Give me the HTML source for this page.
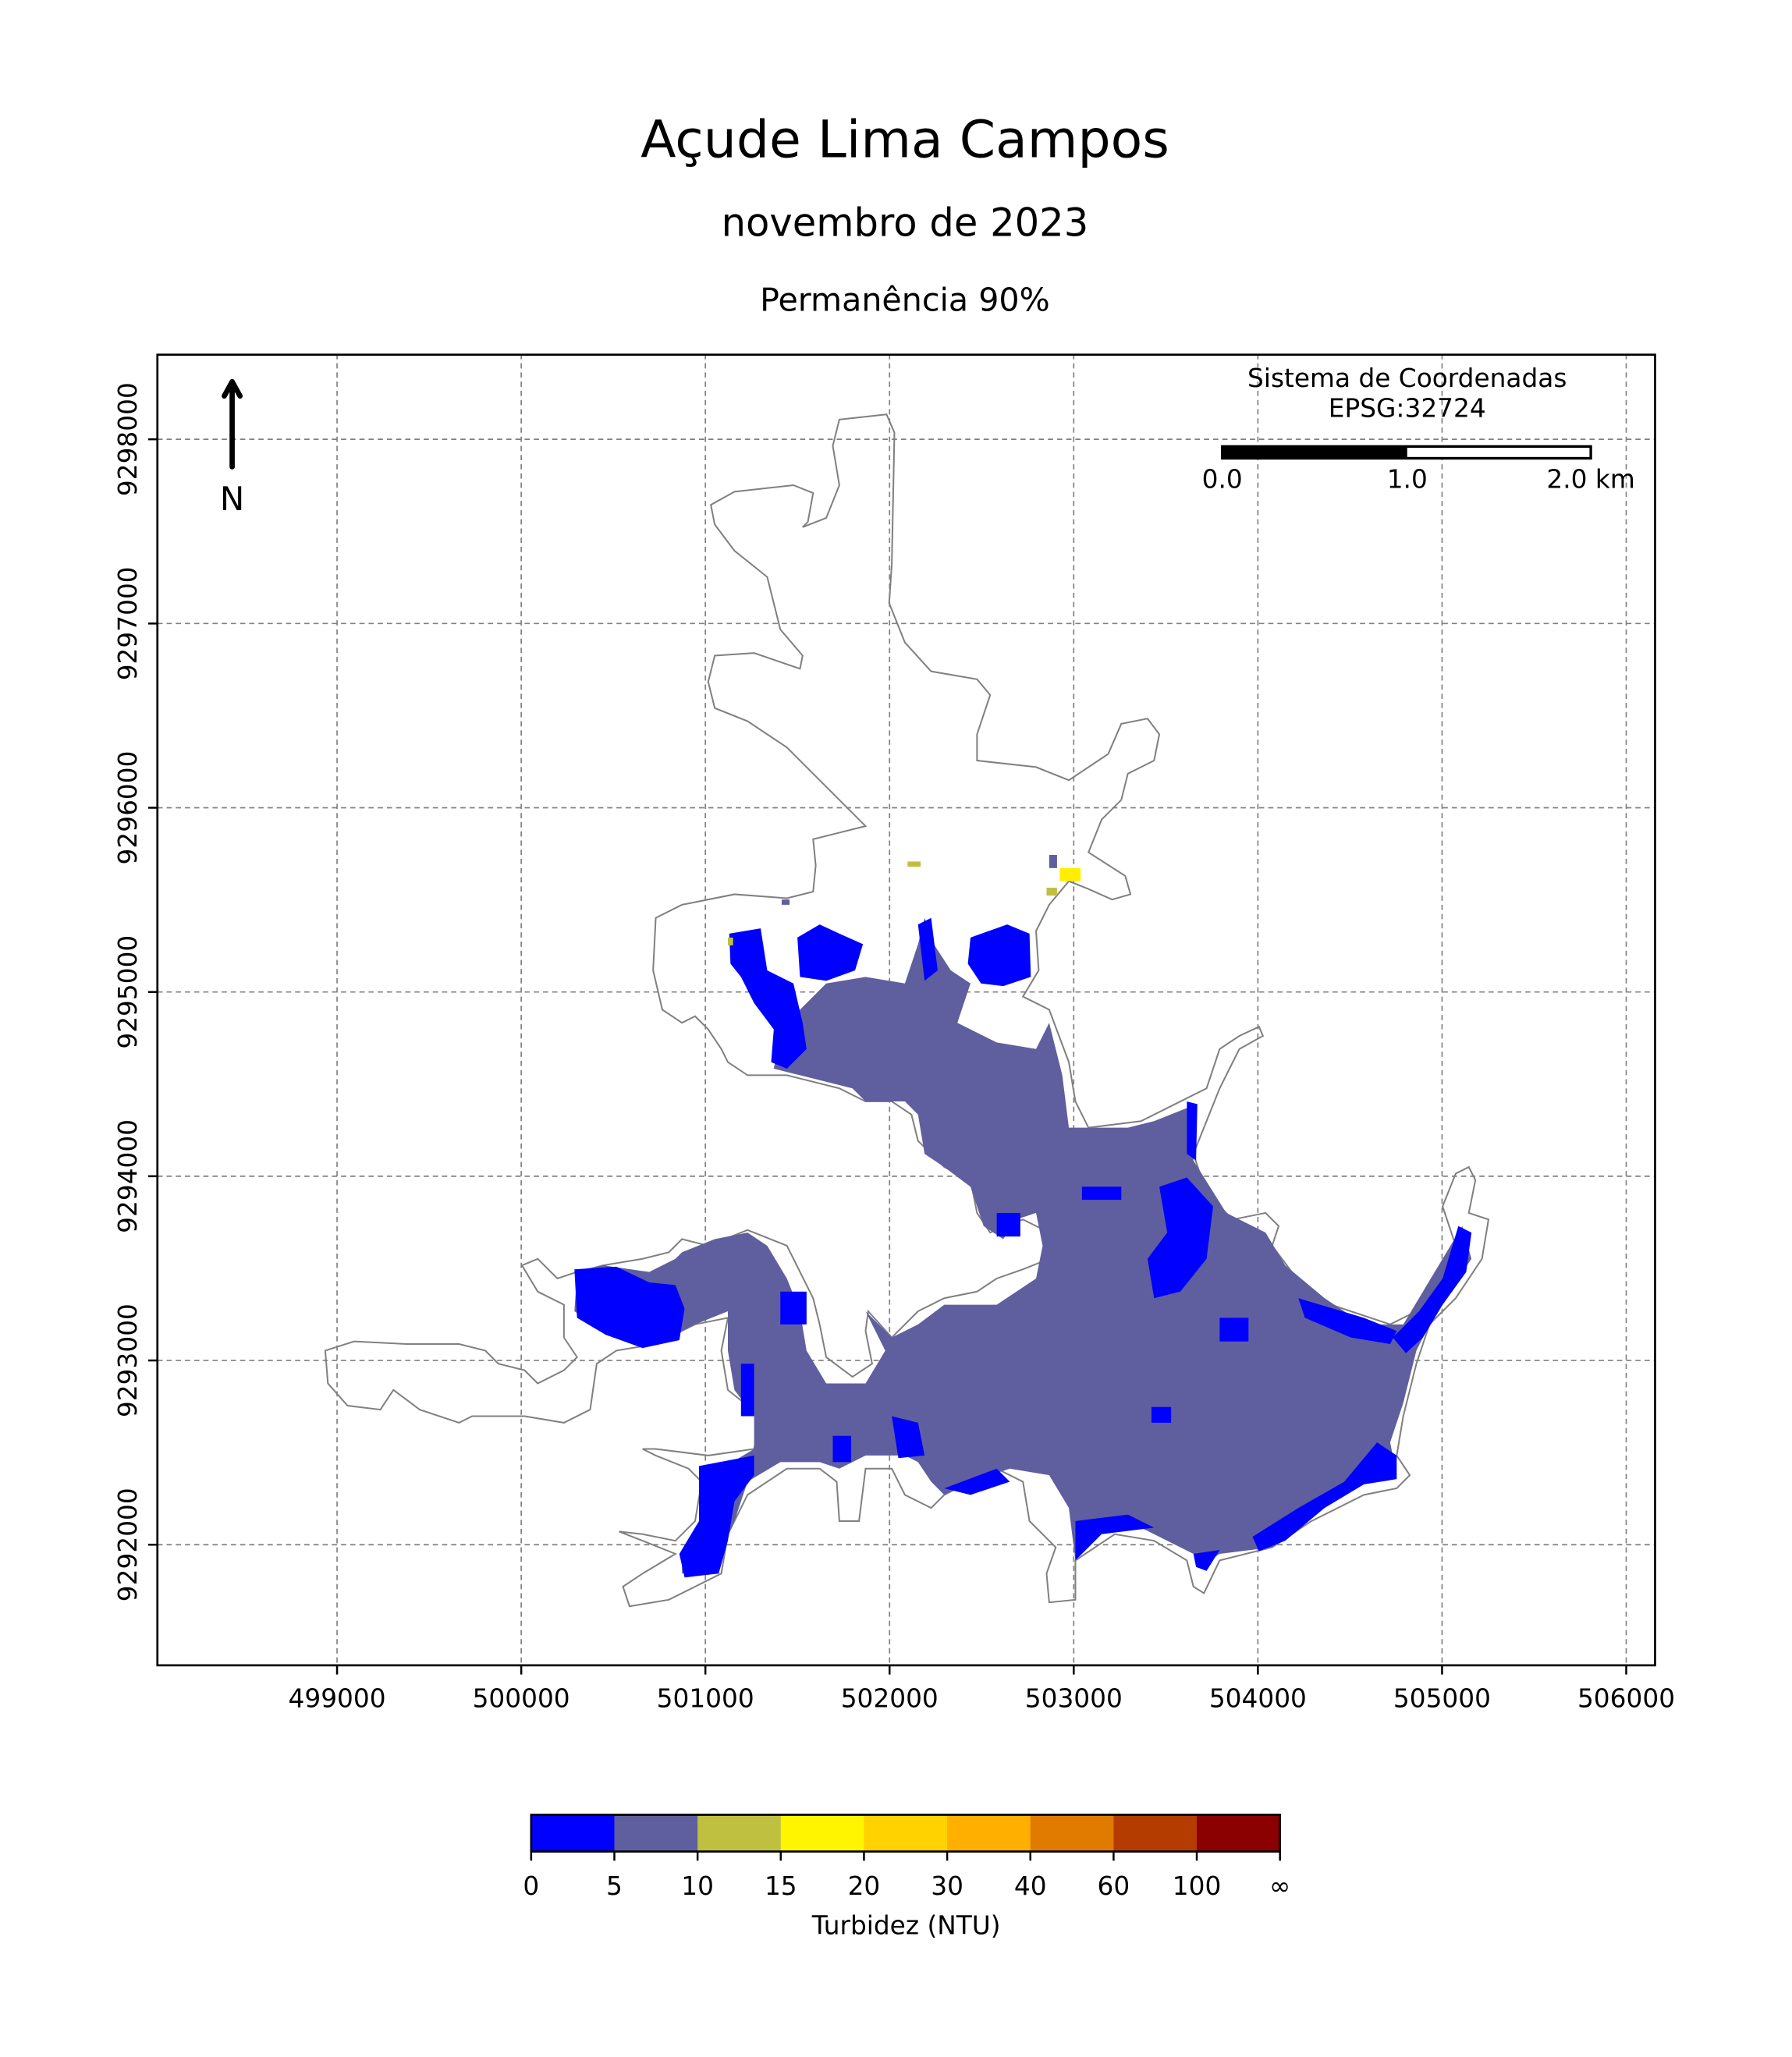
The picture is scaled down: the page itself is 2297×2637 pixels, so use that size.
<!DOCTYPE html>
<html><head><meta charset="utf-8"><style>
html,body{margin:0;padding:0;background:#fff}
svg{display:block}
text{font-family:"DejaVu Sans","Liberation Sans",sans-serif;fill:#000}
</style></head><body>
<svg width="2297" height="2637" viewBox="0 0 1366.4 1568.7" xmlns="http://www.w3.org/2000/svg">
<text x="690" y="120" font-size="39.5" text-anchor="middle">Açude Lima Campos</text>
<text x="690" y="180" font-size="29.5" text-anchor="middle">novembro de 2023</text>
<text x="690" y="237" font-size="24.5" text-anchor="middle">Permanência 90%</text>
<g id="grid"></g>
<g id="lake">
<path fill="none" stroke="#808080" stroke-width="1.2" d="M640,320 L676,316 682,330 680,430 678,460 690,490 710,512 745,518 755,530 745,560 745,580 790,585 815,595 845,575 855,552 875,548 884,560 880,580 860,590 855,610 840,625 830,650 858,668 862,682 848,686 830,678 815,672 800,690 790,710 792,740 780,760 800,770 815,810 820,840 830,860 870,855 900,840 920,830 930,800 945,790 960,783 963,790 945,800 940,810 930,830 918,860 910,880 920,910 940,930 965,925 975,935 970,950 985,970 1000,990 1030,1000 1060,1010 1080,1000 1100,970 1110,950 1100,920 1110,895 1120,890 1125,900 1120,925 1135,930 1130,960 1110,990 1090,1010 1080,1040 1070,1080 1065,1110 1075,1125 1065,1135 1040,1140 1000,1160 970,1180 930,1190 918,1215 910,1210 905,1190 880,1175 850,1170 820,1190 820,1220 800,1222 798,1200 805,1180 785,1160 780,1130 760,1120 740,1130 720,1140 710,1150 690,1140 680,1120 660,1120 655,1160 640,1160 638,1130 625,1120 600,1120 570,1140 555,1170 550,1200 530,1210 510,1220 480,1225 475,1210 490,1200 515,1185 490,1175 472,1168 490,1170 515,1175 530,1160 535,1130 525,1120 500,1110 490,1105 500,1105 540,1110 575,1105 580,1080 555,1060 550,1030 555,1005 530,1010 500,1025 470,1030 455,1040 450,1075 430,1085 400,1080 360,1080 350,1085 320,1075 300,1060 290,1075 265,1072 250,1055 248,1030 270,1023 310,1025 350,1025 370,1030 380,1040 400,1045 410,1055 430,1045 440,1035 430,1020 430,995 410,985 398,965 410,960 425,975 440,970 460,965 490,960 510,955 520,945 540,950 570,938 600,950 610,970 620,990 625,1010 630,1035 650,1050 665,1040 660,1015 662,1000 680,1020 700,1000 720,990 745,985 760,975 780,968 800,960 800,940 780,930 755,940 745,925 740,900 720,890 700,870 695,850 680,840 660,840 640,830 600,820 570,820 555,810 550,800 540,785 530,775 520,780 505,770 498,740 500,700 520,690 560,682 600,685 620,680 622,660 620,640 640,635 660,630 640,610 620,590 600,570 570,550 545,540 540,520 545,500 575,498 610,510 612,500 595,480 590,460 585,440 560,420 545,400 542,385 560,375 605,370 620,376 616,398 612,402 630,395 640,370 635,340 Z"/>
<path fill="#5f5f9f" d="M595,790 L610,770 630,750 660,745 690,750 700,720 705,700 712,720 725,740 740,750 730,780 760,795 790,800 800,780 810,820 815,860 860,860 880,855 905,845 912,845 910,885 935,925 965,940 980,965 1010,990 1040,1010 1070,1010 1100,960 1115,935 1122,960 1095,1000 1080,1030 1070,1070 1060,1100 1065,1125 1040,1130 1010,1150 970,1180 930,1185 915,1195 910,1185 870,1165 840,1165 820,1190 815,1150 800,1125 770,1120 740,1130 720,1140 710,1130 700,1115 690,1110 660,1110 640,1120 625,1115 595,1115 570,1130 560,1160 545,1195 520,1200 520,1185 535,1160 535,1130 550,1120 575,1105 575,1080 560,1060 555,1030 555,1000 530,1010 500,1025 460,1015 438,1000 440,970 460,965 495,970 515,960 520,955 545,945 570,940 585,950 600,975 610,1000 615,1030 630,1055 660,1055 675,1030 660,1000 680,1020 700,1010 720,995 760,995 790,975 795,950 790,925 775,930 765,945 750,935 740,905 720,890 705,880 700,850 690,840 660,840 650,830 610,820 590,815 Z"/>
<g fill="#0000ff">
<path d="M556,712 L580,708 585,740 605,750 612,780 615,800 600,815 588,810 590,785 575,765 565,745 557,735 Z"/>
<path d="M608,715 L625,705 640,712 658,720 652,740 630,748 610,745 Z"/>
<path d="M740,715 L768,705 785,712 786,745 765,752 748,750 738,735 Z"/>
<path d="M700,705 L710,700 715,740 705,748 Z"/>
<path d="M438,968 L470,966 495,978 515,980 522,998 518,1022 490,1028 462,1018 440,1005 Z"/>
<path d="M533,1118 L575,1110 575,1125 560,1145 555,1175 548,1200 522,1203 518,1185 533,1160 Z"/>
<path d="M1112,935 L1122,940 1118,970 1100,995 1085,1020 1072,1032 1062,1020 1082,1000 1100,975 Z"/>
<path d="M884,905 L905,898 925,920 920,960 900,985 880,990 875,960 890,940 Z"/>
<path d="M990,990 L1040,1005 1065,1015 1060,1025 1030,1020 995,1005 Z"/>
<path d="M1050,1100 L1065,1110 1065,1128 1040,1132 1010,1150 980,1175 960,1183 955,1172 990,1150 1025,1130 Z"/>
<path d="M905,840 L913,842 912,885 905,880 Z"/>
<path d="M720,1135 L760,1120 770,1130 740,1140 Z"/>
<path d="M820,1160 L860,1155 880,1165 840,1170 820,1190 Z"/>
<path d="M910,1185 L930,1182 920,1198 912,1195 Z"/>
<path d="M680,1080 L700,1085 705,1110 685,1112 Z"/>
<rect x="760" y="925" width="18" height="18"/>
<rect x="878" y="1073" width="15" height="12"/>
<rect x="930" y="1005" width="22" height="18"/>
<rect x="565" y="1040" width="10" height="40"/>
<rect x="825" y="905" width="30" height="10"/>
<rect x="595" y="985" width="20" height="25"/>
<rect x="635" y="1095" width="14" height="20"/>
</g>
<g>
<rect x="692" y="657" width="10" height="4" fill="#c0c040"/>
<rect x="808" y="662" width="16" height="10" fill="#ffee00"/>
<rect x="800" y="652" width="6" height="10" fill="#5f5f9f"/>
<rect x="798" y="677" width="8" height="6" fill="#c0c040"/>
<rect x="555" y="715" width="4" height="6" fill="#c0c040"/>
<rect x="596" y="686" width="6" height="4" fill="#5f5f9f"/>
</g>
</g>
<rect x="120" y="270.5" width="1142" height="999.5" fill="none" stroke="#000" stroke-width="1.6"/>
<g id="ticks"></g>
<g>
<line x1="177" y1="356" x2="177" y2="294" stroke="#000" stroke-width="4" stroke-linecap="round"/>
<polyline points="171,302 177,291 183,302" fill="none" stroke="#000" stroke-width="4" stroke-linecap="round" stroke-linejoin="round"/>
<text x="177" y="389" font-size="25" text-anchor="middle">N</text>
</g>
<g>
<text x="1073" y="295" font-size="19.5" text-anchor="middle">Sistema de Coordenadas</text>
<text x="1073" y="318" font-size="19.5" text-anchor="middle">EPSG:32724</text>
<rect x="932" y="340.5" width="281" height="9" fill="#fff" stroke="#000" stroke-width="2"/>
<rect x="932" y="340.5" width="141" height="9" fill="#000"/>
<text x="932" y="372" font-size="19.5" text-anchor="middle">0.0</text>
<text x="1073" y="372" font-size="19.5" text-anchor="middle">1.0</text>
<text x="1213" y="372" font-size="19.5" text-anchor="middle">2.0 km</text>
</g>
<g id="cbar"></g>
<text x="691" y="1475" font-size="19.5" text-anchor="middle">Turbidez (NTU)</text>
</svg>
<script>
const xTickValues=[499000,500000,501000,502000,503000,504000,505000,506000];
const yTickValues=[9292000,9293000,9294000,9295000,9296000,9297000,9298000];
const cbarLabels=["0","5","10","15","20","30","40","60","100","∞"];
const cbarColors=["#0000ff","#5f5f9f","#c0c040","#fff500","#ffd200","#ffaf00","#e07b00","#b43c00","#8b0000"];
const NS="http://www.w3.org/2000/svg";
const X=v=>257+(v-499000)*0.14043;
const Y=v=>1178-(v-9292000)*0.14050;
function mk(tag,attrs,parent){const e=document.createElementNS(NS,tag);for(const k in attrs)e.setAttribute(k,attrs[k]);parent.appendChild(e);return e;}
const grid=document.getElementById('grid'),ticks=document.getElementById('ticks');
xTickValues.forEach(v=>{
 const g=mk('line',{x1:X(v),x2:X(v),y1:270,y2:1270,stroke:'#808080','stroke-width':1,'stroke-dasharray':'4,3'},grid);
 
 
 const t=mk('line',{x1:X(v),x2:X(v),y1:1270,y2:1277,stroke:'#000','stroke-width':1.5},ticks);
 
 
 const l=mk('text',{x:X(v),y:1302,'font-size':19.5,'text-anchor':'middle'},ticks);l.textContent=v;
 
 
});
yTickValues.forEach(v=>{
 const g=mk('line',{x1:120,x2:1262,y1:Y(v),y2:Y(v),stroke:'#808080','stroke-width':1,'stroke-dasharray':'4,3'},grid);
 
 
 const t=mk('line',{x1:113,x2:120,y1:Y(v),y2:Y(v),stroke:'#000','stroke-width':1.5},ticks);
 
 
 const l=mk('text',{x:0,y:0,'font-size':19.5,'text-anchor':'middle',transform:`translate(104,${Y(v)}) rotate(-90)`},ticks);l.textContent=v;
 
 
});
const cb=document.getElementById('cbar');const cx0=405,cx1=976,cw=(cx1-cx0)/cbarColors.length;
cbarColors.forEach((c,i)=>{
 const r=mk('rect',{x:cx0+i*cw,y:1384,width:cw+0.3,height:28,fill:c},cb);
 
 
});
const fr=mk('rect',{x:cx0,y:1384,width:cx1-cx0,height:28,fill:'none',stroke:'#000','stroke-width':1.6},cb);


cbarLabels.forEach((s,i)=>{
 const x=cx0+i*cw;
 const t=mk('line',{x1:x,x2:x,y1:1412,y2:1419,stroke:'#000','stroke-width':1.5},cb);
 
 
 const l=mk('text',{x:x,y:1445,'font-size':19.5,'text-anchor':'middle'},cb);l.textContent=s;
 
 
});
</script>
</body></html>
